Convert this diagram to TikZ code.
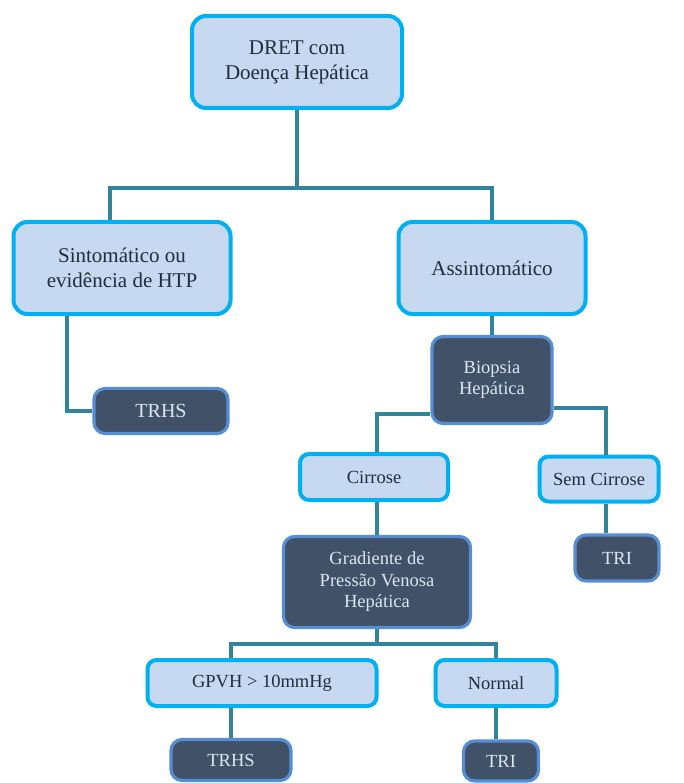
\documentclass[tikz,border=0pt]{standalone}
\usepackage{fontspec}
\setmainfont{Liberation Serif}
\definecolor{lightfill}{HTML}{C6D9F0}
\definecolor{lightline}{HTML}{00B0F0}
\definecolor{darkfill}{HTML}{415167}
\definecolor{darkline}{HTML}{558ED5}
\definecolor{darktext}{HTML}{DCE6F2}
\definecolor{lighttext}{HTML}{1F2D3D}
\definecolor{linkcolor}{HTML}{31849B}

\tikzset{
  bigbox/.style={draw=lightline,fill=lightfill,line width=4pt,rounded corners=14pt,
    text=lighttext,align=center,inner sep=0pt,font=\fontsize{21}{25}\selectfont},
  smallbox/.style={draw=lightline,fill=lightfill,line width=4pt,rounded corners=9pt,
    text=lighttext,align=center,inner sep=0pt,font=\fontsize{18.5}{21.5}\selectfont},
  darkbox/.style={draw=darkline,fill=darkfill,line width=3.2pt,rounded corners=11pt,
    text=darktext,align=center,inner sep=0pt,font=\fontsize{18.5}{21.5}\selectfont},
  link/.style={draw=linkcolor,line width=3.2pt}
}

\begin{document}
\begin{tikzpicture}[x=1pt,y=-1pt]
    \useasboundingbox (0,0) rectangle (683,783);

    % first level
    \node[bigbox,minimum width=210pt,minimum height=92pt] (dret) at (297,62) {DRET com\\Doença Hepática};
    \node[bigbox,minimum width=217pt,minimum height=92pt] (sint) at (122,268) {Sintomático ou\\evidência de HTP};
    \node[bigbox,minimum width=187pt,minimum height=92pt] (assint) at (492,268) {Assintomático};

    \node[darkbox,minimum width=134pt,minimum height=45pt,font=\fontsize{20}{24}\selectfont] (trhsa) at (161,411) {TRHS};
    \node[darkbox,minimum width=120pt,minimum height=87pt] (biop) at (492,380) {Biopsia\\Hepática};

    % biopsy branches
    \node[smallbox,minimum width=148pt,minimum height=46pt] (cirr) at (374,477) {Cirrose};
    \node[smallbox,minimum width=119pt,minimum height=45pt] (semc) at (599,479) {Sem Cirrose};
    \node[darkbox,minimum width=84pt,minimum height=46pt] (trir) at (617,558) {TRI};

    \node[darkbox,minimum width=187pt,minimum height=91pt] (grad) at (377,582) {Gradiente de\\Pressão Venosa\\Hepática};

    % last level
    \node[smallbox,minimum width=229pt,minimum height=46pt] (gpvh) at (262,683) {GPVH > 10mmHg};
    \node[smallbox,minimum width=121pt,minimum height=46pt] (normal) at (496,683) {Normal};
    \node[darkbox,minimum width=120pt,minimum height=41pt] (trhsb) at (231,760) {TRHS};
    \node[darkbox,minimum width=75pt,minimum height=40pt] (trib) at (501,761) {TRI};

    % connectors
    \coordinate (top) at (297,188);
    \coordinate (topl) at (110,188);
    \coordinate (topr) at (492,188);
    \coordinate (sl) at (67,0);
    \coordinate (gj) at (377,644);
    \coordinate (gl) at (231,644);
    \coordinate (gr) at (496,644);

    \draw[link] (dret) -- (top);
    \draw[link] (topl |- sint.north) -- (topl) -- (topr) -- (assint.north);
    \draw[link] (sl |- sint.south) |- (trhsa.west);
    \draw[link] (assint) -- (biop);
    \draw[link] ([yshift=-34pt]biop.west) -| ([xshift=3pt]cirr.north);
    \draw[link] ([yshift=-28pt]biop.east) -| ([xshift=7pt]semc.north);
    \draw[link] ([xshift=7pt]semc.south) -- ([xshift=7pt]semc.south |- trir.north);
    \draw[link] ([xshift=3pt]cirr.south) -- (grad.north);
    \draw[link] (grad) -- (gj);
    \draw[link] (gl |- gpvh.north) -- (gl) -- (gr) -- (normal.north);
    \draw[link] (gl |- gpvh.south) -- (trhsb.north);
    \draw[link] (normal.south) -- (normal.south |- trib.north);
\end{tikzpicture}
\end{document}
